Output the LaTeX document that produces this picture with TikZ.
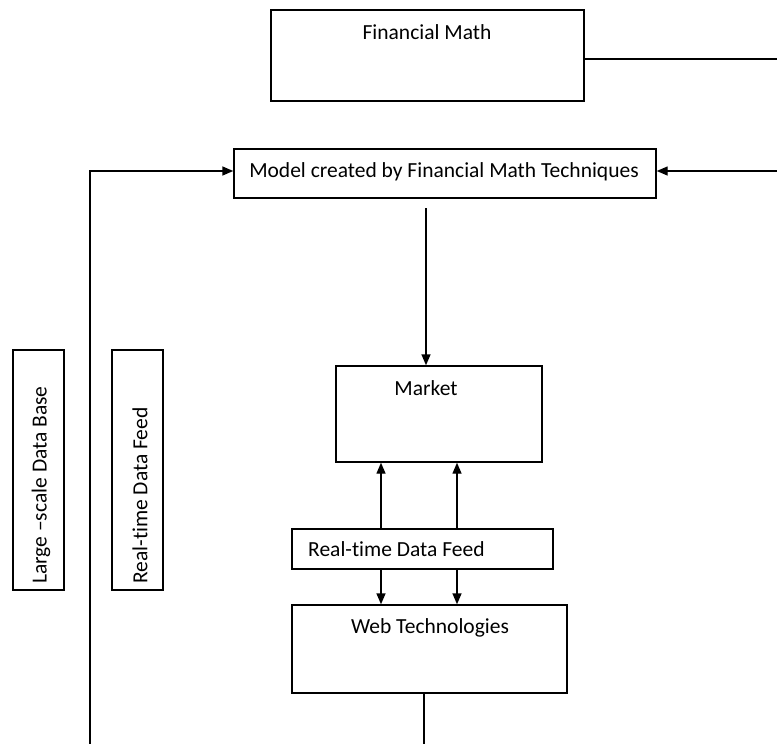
\documentclass[tikz,border=0pt]{standalone}
\usepackage{fontspec}
\setmainfont{Carlito}[Ligatures=NoCommon]
\usetikzlibrary{arrows.meta}
\begin{document}
\begin{tikzpicture}[x=1pt,y=-1pt,
  box/.style={draw, line width=1.4pt, inner sep=0pt},
  lbl/.style={inner sep=0pt, font=\fontsize{21.5}{25}\selectfont},
  conn/.style={line width=1.4pt},
  arr/.style={line width=1.4pt, -{Triangle[length=11pt,width=9pt]}}]
\useasboundingbox (0,0) rectangle (777,744);
% boxes
\node[box, minimum width=313pt, minimum height=91pt] (fm) at (427.5,55.5) {};
\node[box, minimum width=422pt, minimum height=49pt] (model) at (445,173.5) {};
\node[box, minimum width=206pt, minimum height=96pt] (market) at (439,414) {};
\node[box, minimum width=261pt, minimum height=40pt] (rdf) at (422.5,549) {};
\node[box, minimum width=275pt, minimum height=88pt] (web) at (429.5,649) {};
\node[box, minimum width=51pt, minimum height=240pt] (ldb) at (38.5,470) {};
\node[box, minimum width=51pt, minimum height=240pt] (rdfv) at (137.5,470) {};
% texts
\node[lbl] (tfm) at (427,32) {Financial Math};
\node[lbl] (tmodel) at (444,172) {Model created by Financial Math Techniques};
\node[lbl] (tmarket) at (426,388) {Market};
\node[lbl, anchor=west] (trdf) at (308,549) {Real-time Data Feed};
\node[lbl] (tweb) at (430,628) {Web Technologies};
\node[lbl, rotate=90, anchor=west] (tldb) at (41,584) {Large –scale Data Base};
\node[lbl, rotate=90, anchor=west] (trdfv) at (140,584) {Real-time Data Feed};
% coordinates
\coordinate (fmR) at (777,59);
\coordinate (mR) at (777,171);
\coordinate (lb) at (90,744);
\coordinate (mtop) at (426,208);
\coordinate (a1) at (381,0);
\coordinate (a2) at (457,0);
\coordinate (wb) at (424,744);
% connectors
\draw[conn] (fm.east |- fmR) -- (fmR);
\draw[arr] (mR) -- (model.east |- mR);
\draw[arr] (lb) |- (model.west |- mR);
\draw[arr] (mtop) -- (mtop |- market.north);
\draw[arr] (rdf.north -| a1) -- (market.south -| a1);
\draw[arr] (rdf.north -| a2) -- (market.south -| a2);
\draw[arr] (rdf.south -| a1) -- (web.north -| a1);
\draw[arr] (rdf.south -| a2) -- (web.north -| a2);
\draw[conn] (web.south -| wb) -- (wb);
\end{tikzpicture}
\end{document}
